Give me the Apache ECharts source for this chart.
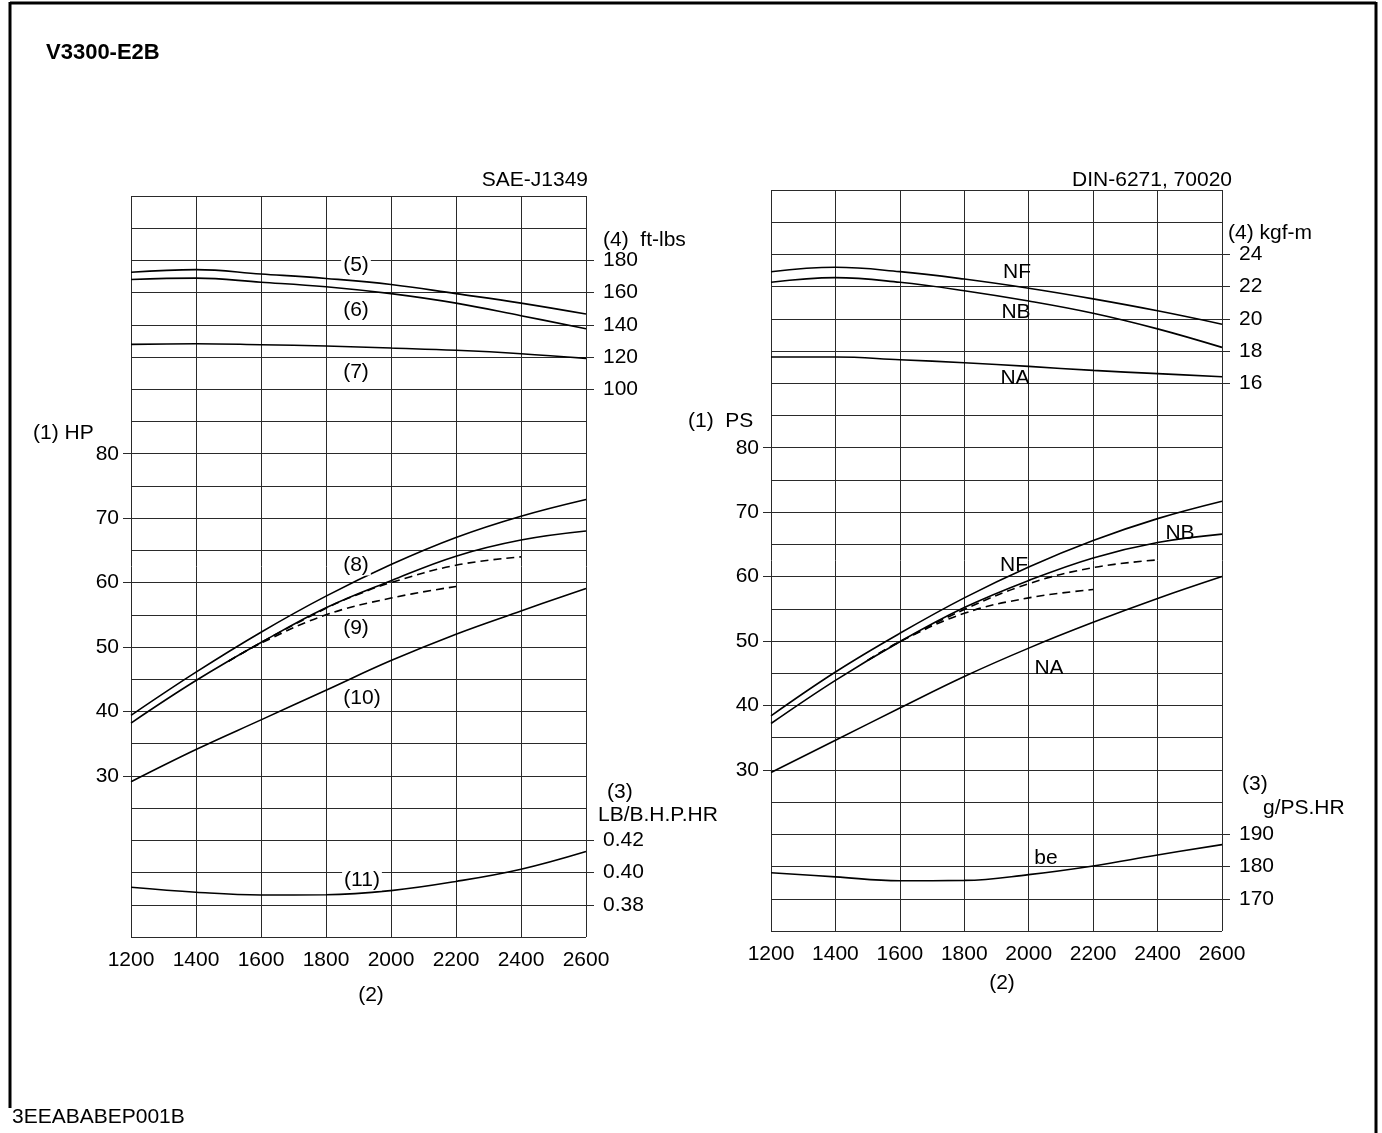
<!DOCTYPE html>
<html><head><meta charset="utf-8">
<script src="https://cdn.jsdelivr.net/npm/echarts@6/dist/echarts.min.js"></script>
<style>html,body{margin:0;padding:0;background:#fff}#c{width:1382px;height:1133px}</style>
</head><body><div id="c"></div>
<script>
// ---- data ----
const rpm = [1200, 1400, 1600, 1800, 2000, 2200, 2400, 2600];
const rpmTickLabels = [1200, 1400, 1600, 1800, 2000, 2200, 2400, 2600];

// SAE-J1349 (left)
const torque5 = [172.7, 174.3, 171.6, 168.8, 165.1, 159.4, 153.5, 146.7];   // ft-lbs
const torque6 = [168.2, 169.0, 166.5, 163.7, 159.4, 153.5, 145.7, 137.6];
const torque7 = [127.9, 128.3, 127.7, 126.9, 125.6, 124.2, 122.1, 119.2];
const power8  = [39.4, 46.1, 52.3, 57.9, 62.8, 67.0, 70.3, 72.9];           // HP
const power9  = [38.2, 44.8, 50.7, 56.1, 60.3, 64.1, 66.6, 68.0];
const rpmDashA = [1500, 1600, 1800, 1900, 2000, 2200, 2400];
const power9DashA = [47.8, 50.7, 56.0, 58.2, 60.0, 62.7, 64.0];
const rpmDashB = [1500, 1600, 1800, 2000, 2200];
const power9DashB = [47.8, 50.6, 55.0, 57.6, 59.4];
const power10 = [29.1, 34.1, 38.7, 43.3, 47.9, 52.0, 55.6, 59.1];
const fuel11  = [0.3909, 0.3878, 0.3861, 0.3862, 0.3888, 0.3945, 0.4021, 0.4131]; // LB/B.H.P.HR

// DIN-6271, 70020 (right)
const torqueNF = [22.93, 23.20, 22.93, 22.47, 21.90, 21.24, 20.50, 19.67]; // kgf-m
const torqueNB = [22.27, 22.56, 22.27, 21.75, 21.11, 20.35, 19.38, 18.23];
const torqueNA = [17.63, 17.63, 17.46, 17.28, 17.05, 16.80, 16.60, 16.41];
const powerNF  = [38.4, 45.2, 51.2, 56.7, 61.5, 65.6, 69.0, 71.7];          // PS
const powerNB  = [37.2, 43.9, 49.9, 55.2, 59.4, 62.9, 65.3, 66.6];
const rpmDashRA = [1500, 1600, 1800, 2000, 2200, 2400];
const powerNBDashA = [47.0, 49.9, 54.9, 58.9, 61.4, 62.6];
const rpmDashRB = [1500, 1600, 1800, 2000, 2200];
const powerNBDashB = [47.0, 49.9, 54.3, 56.7, 58.0];
const powerNA  = [29.6, 34.6, 39.6, 44.5, 48.9, 52.9, 56.6, 60.0];
const fuelBe   = [178.1, 176.8, 175.6, 175.7, 177.5, 180.2, 183.6, 186.8]; // g/PS.HR

// tick labels
const hpTicks = [30, 40, 50, 60, 70, 80];
const ftlbTicks = [100, 120, 140, 160, 180];
const lbTicks = [0.38, 0.40, 0.42];
const psTicks = [30, 40, 50, 60, 70, 80];
const kgfTicks = [16, 18, 20, 22, 24];
const gTicks = [170, 180, 190];

// ---- chart ----
const FF = '"Liberation Sans", Arial, Helvetica, sans-serif';
const GRID = '#2a2a2a';
const FS = 21;
function pairs(xs, ys) { return xs.map((x, i) => [x, ys[i]]); }

function xAx(g) {
  return {
    type: 'value', gridIndex: g, min: 1200, max: 2600, interval: 200,
    axisLine: { show: false },
    axisTick: { show: true, length: 5, lineStyle: { color: GRID } },
    axisLabel: { fontSize: FS, color: '#000', fontFamily: FF, margin: 13,
      customValues: rpmTickLabels, formatter: v => String(v) },
    splitLine: { show: true, lineStyle: { color: GRID, width: 1 } }
  };
}
function gridAx(g, min, max, interval, ticks) {
  return {
    type: 'value', gridIndex: g, position: 'left', min, max, interval,
    axisLine: { show: false }, axisTick: { show: false },
    axisLabel: { fontSize: FS, color: '#000', fontFamily: FF, margin: 12, customValues: ticks },
    splitLine: { show: true, lineStyle: { color: GRID, width: 1 } }
  };
}
function tickAx(g, pos, min, max, interval, ticks) {
  return {
    type: 'value', gridIndex: g, position: pos, min, max, interval,
    axisLine: { show: false },
    axisTick: { show: true, length: 8, customValues: ticks, lineStyle: { color: GRID } },
    axisLabel: { show: false },
    splitLine: { show: false }
  };
}
function labAx(g, min, max, interval, ticks, fmt) {
  return {
    type: 'value', gridIndex: g, position: 'right', min, max, interval,
    axisLine: { show: false },
    axisTick: { show: true, length: 8, customValues: ticks, lineStyle: { color: GRID } },
    axisLabel: { fontSize: FS, color: '#000', fontFamily: FF, margin: 17, customValues: ticks,
      formatter: fmt || (v => String(v)) },
    splitLine: { show: false }
  };
}

function line(xi, yi, data, dashed) {
  return {
    type: 'line', xAxisIndex: xi, yAxisIndex: yi, data, smooth: 0.4,
    showSymbol: false, symbol: 'none', silent: true, z: 5,
    lineStyle: { color: '#000', width: 1.6, type: dashed ? [8, 5] : 'solid' }
  };
}

function txt(x, y, text, opt) {
  opt = opt || {};
  return {
    type: 'text', x, y, z: 20,
    style: {
      text, fill: '#000',
      font: (opt.bold ? 'bold ' : '') + (opt.size || FS) + 'px ' + FF,
      textAlign: opt.align || 'left', textVerticalAlign: 'middle',
      backgroundColor: opt.bg ? '#fff' : undefined,
      padding: opt.bg ? [0, 2] : undefined
    }
  };
}

const option = {
  backgroundColor: '#fff',
  animation: false,
  grid: [
    { left: 131, top: 196, width: 455, height: 741 },
    { left: 771, top: 190, width: 451, height: 741 }
  ],
  xAxis: [xAx(0), xAx(1)],
  yAxis: [
    gridAx(0, 5, 120, 5, hpTicks),                    // 0 HP
    tickAx(0, 'left', 5, 120, 5, hpTicks),            // 1 HP ticks
    labAx(0, -240, 220, 20, ftlbTicks),               // 2 ft-lbs
    labAx(0, 0.36, 0.82, 0.02, lbTicks, v => v.toFixed(2)), // 3 LB/BHP.HR
    gridAx(1, 5, 120, 5, psTicks),                    // 4 PS
    tickAx(1, 'left', 5, 120, 5, psTicks),            // 5 PS ticks
    labAx(1, -18, 28, 2, kgfTicks),                   // 6 kgf-m
    labAx(1, 160, 390, 10, gTicks)                    // 7 g/PS.HR
  ],
  series: [
    line(0, 2, pairs(rpm, torque5)),
    line(0, 2, pairs(rpm, torque6)),
    line(0, 2, pairs(rpm, torque7)),
    line(0, 0, pairs(rpm, power8)),
    line(0, 0, pairs(rpm, power9)),
    line(0, 0, pairs(rpmDashA, power9DashA), true),
    line(0, 0, pairs(rpmDashB, power9DashB), true),
    line(0, 0, pairs(rpm, power10)),
    line(0, 3, pairs(rpm, fuel11)),

    line(1, 6, pairs(rpm, torqueNF)),
    line(1, 6, pairs(rpm, torqueNB)),
    line(1, 6, pairs(rpm, torqueNA)),
    line(1, 4, pairs(rpm, powerNF)),
    line(1, 4, pairs(rpm, powerNB)),
    line(1, 4, pairs(rpmDashRA, powerNBDashA), true),
    line(1, 4, pairs(rpmDashRB, powerNBDashB), true),
    line(1, 4, pairs(rpm, powerNA)),
    line(1, 7, pairs(rpm, fuelBe))
  ],
  graphic: [
    // frame
    { type: 'line', shape: { x1: 10, y1: 3, x2: 1376, y2: 3 }, style: { stroke: '#000', lineWidth: 3 } },
    { type: 'line', shape: { x1: 10, y1: 2, x2: 10, y2: 1108 }, style: { stroke: '#000', lineWidth: 3 } },
    { type: 'line', shape: { x1: 1376, y1: 2, x2: 1376, y2: 1133 }, style: { stroke: '#000', lineWidth: 3 } },

    txt(46, 53, 'V3300-E2B', { bold: true, size: 22 }),
    txt(12, 1117, '3EEABABEP001B'),

    // left panel
    txt(588, 180, 'SAE-J1349', { align: 'right' }),
    txt(603, 240, '(4)  ft-lbs'),
    txt(33, 433, '(1) HP'),
    txt(607, 792, '(3)'),
    txt(598, 815, 'LB/B.H.P.HR'),
    txt(371, 995, '(2)', { align: 'center' }),
    txt(356, 265, '(5)', { align: 'center', bg: true }),
    txt(356, 310, '(6)', { align: 'center', bg: true }),
    txt(356, 372, '(7)', { align: 'center', bg: true }),
    txt(356, 565, '(8)', { align: 'center', bg: true }),
    txt(356, 628, '(9)', { align: 'center', bg: true }),
    txt(362, 698, '(10)', { align: 'center', bg: true }),
    txt(362, 880, '(11)', { align: 'center', bg: true }),

    // right panel
    txt(1232, 180, 'DIN-6271, 70020', { align: 'right' }),
    txt(1228, 233, '(4) kgf-m'),
    txt(688, 421, '(1)  PS'),
    txt(1242, 784, '(3)'),
    txt(1263, 808, 'g/PS.HR'),
    txt(1002, 983, '(2)', { align: 'center' }),
    txt(1017, 272, 'NF', { align: 'center' }),
    txt(1016, 312, 'NB', { align: 'center' }),
    txt(1015, 378, 'NA', { align: 'center' }),
    txt(1180, 533, 'NB', { align: 'center' }),
    txt(1014, 565, 'NF', { align: 'center' }),
    txt(1049, 668, 'NA', { align: 'center' }),
    txt(1046, 858, 'be', { align: 'center' })
  ]
};

const chart = echarts.init(document.getElementById('c'), null, { renderer: 'canvas' });
chart.setOption(option);
</script>
</body></html>
